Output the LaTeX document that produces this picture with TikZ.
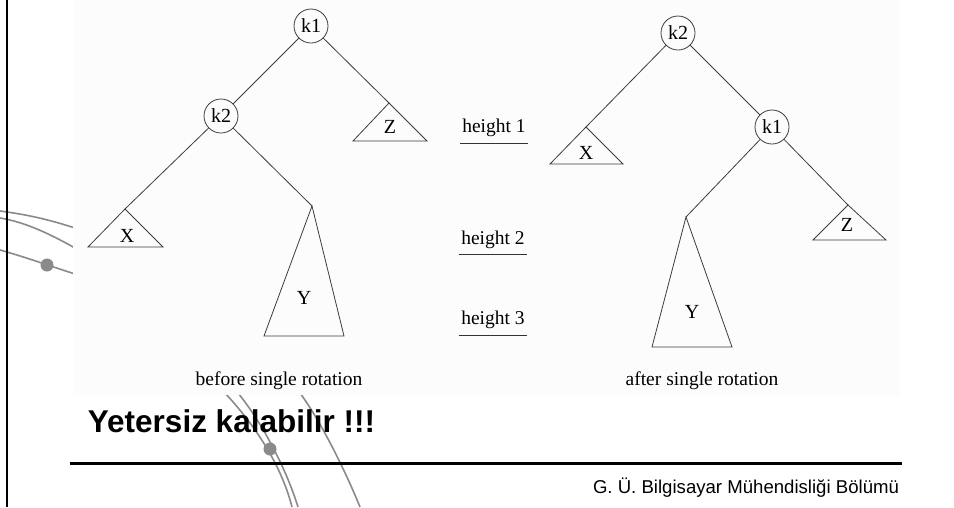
\documentclass[tikz,border=0pt]{standalone}
\usepackage{fontspec}
\setmainfont{Liberation Serif}
\newfontfamily\arialfont{Liberation Sans}
\definecolor{decogray}{RGB}{138,138,138}
\definecolor{imgbg}{RGB}{252,252,252}
\definecolor{treeline}{RGB}{60,60,60}
\tikzset{
  keynode/.style={circle,draw=treeline,line width=0.8pt,minimum size=34pt,inner sep=0pt,font=\fontsize{20}{22}\selectfont},
  edge/.style={draw=treeline,line width=0.8pt},
  subtree/.style={draw=treeline,line width=0.8pt},
  sublabel/.style={inner sep=0pt,font=\fontsize{20}{22}\selectfont},
  hlabel/.style={inner sep=0pt,font=\fontsize{19.5}{21}\selectfont},
  hrule/.style={draw=black!80,line width=0.9pt},
  caption/.style={inner sep=0pt,font=\fontsize{19.5}{22}\selectfont},
  deco/.style={draw=decogray,line width=1.6pt},
  decodot/.style={circle,fill=decogray,inner sep=0pt,minimum size=13pt}
}
\begin{document}
\begin{tikzpicture}[x=1pt,y=-1pt]
\useasboundingbox (0,0) rectangle (954,507);
\fill[white] (0,0) rectangle (954,507);
% decorative template curves
\draw[deco] (0,211) .. controls (30,215) and (50,220) .. (75,228);
\draw[deco] (0,218) .. controls (25,222) and (50,234) .. (75,248);
\draw[deco] (0,250) .. controls (25,257) and (50,266) .. (75,274);
\node[decodot] (dotl) at (47,265) {};
\draw[deco] (225,393) .. controls (250,420) and (280,460) .. (292,507);
\draw[deco] (238,393) .. controls (260,420) and (285,465) .. (298,507);
\draw[deco] (300,393) .. controls (320,420) and (345,470) .. (360,507);
\node[decodot] (dotb) at (270,449) {};
% pasted diagram background
\fill[imgbg] (73,0) rectangle (900,395);
% left border
\draw[black,line width=2.7pt] (7,0) -- (7,507);
% ---------- before rotation ----------
\node[keynode] (k1a) at (311,26) {k1};
\node[keynode] (k2a) at (221,116) {k2};
\coordinate (xa) at (125,209);
\coordinate (ya) at (312,206);
\coordinate (za) at (389,103);
\draw[subtree] (xa) -- (88,247) -- (163,247) -- cycle;
\draw[subtree] (ya) -- (264,336) -- (344,336) -- cycle;
\draw[subtree] (za) -- (353,141) -- (427,141) -- cycle;
\node[sublabel] (xla) at (127,236) {X};
\node[sublabel] (yla) at (304,298) {Y};
\node[sublabel] (zla) at (390,127) {Z};
\draw[edge] (k1a) -- (k2a);
\draw[edge] (k1a) -- (za);
\draw[edge] (k2a) -- (xa);
\draw[edge] (k2a) -- (ya);
% ---------- after rotation ----------
\node[keynode] (k2b) at (678,33) {k2};
\node[keynode] (k1b) at (772,127) {k1};
\coordinate (xb) at (586,127);
\coordinate (yb) at (686,217);
\coordinate (zb) at (848,205);
\draw[subtree] (xb) -- (550,164) -- (623,164) -- cycle;
\draw[subtree] (yb) -- (652,347) -- (732,347) -- cycle;
\draw[subtree] (zb) -- (813,240) -- (886,240) -- cycle;
\node[sublabel] (xlb) at (586,153) {X};
\node[sublabel] (ylb) at (692,312) {Y};
\node[sublabel] (zlb) at (847,225) {Z};
\draw[edge] (k2b) -- (xb);
\draw[edge] (k2b) -- (k1b);
\draw[edge] (k1b) -- (yb);
\draw[edge] (k1b) -- (zb);
% ---------- heights ----------
\node[hlabel] (h1) at (494,128) {height 1};
\node[hlabel] (h2) at (493,240) {height 2};
\node[hlabel] (h3) at (493,320) {height 3};
\draw[hrule] (460,143) -- (528,143);
\draw[hrule] (459,254) -- (527,254);
\draw[hrule] (459,335) -- (527,335);
% captions
\node[caption] (cb) at (279,381) {before single rotation};
\node[caption] (ca) at (702,381) {after single rotation};
% slide text
\node[inner sep=0pt,anchor=base,font=\arialfont\bfseries\fontsize{31.5}{34}\selectfont] (yet) at (231.5,432) {Yetersiz kalabilir !!!};
\draw[black,line width=2.8pt] (70,463.5) -- (902,463.5);
\node[inner sep=0pt,anchor=base,font=\arialfont\fontsize{18.6}{20}\selectfont] (foot) at (746,493) {G. Ü. Bilgisayar Mühendisliği Bölümü};
\end{tikzpicture}
\end{document}
